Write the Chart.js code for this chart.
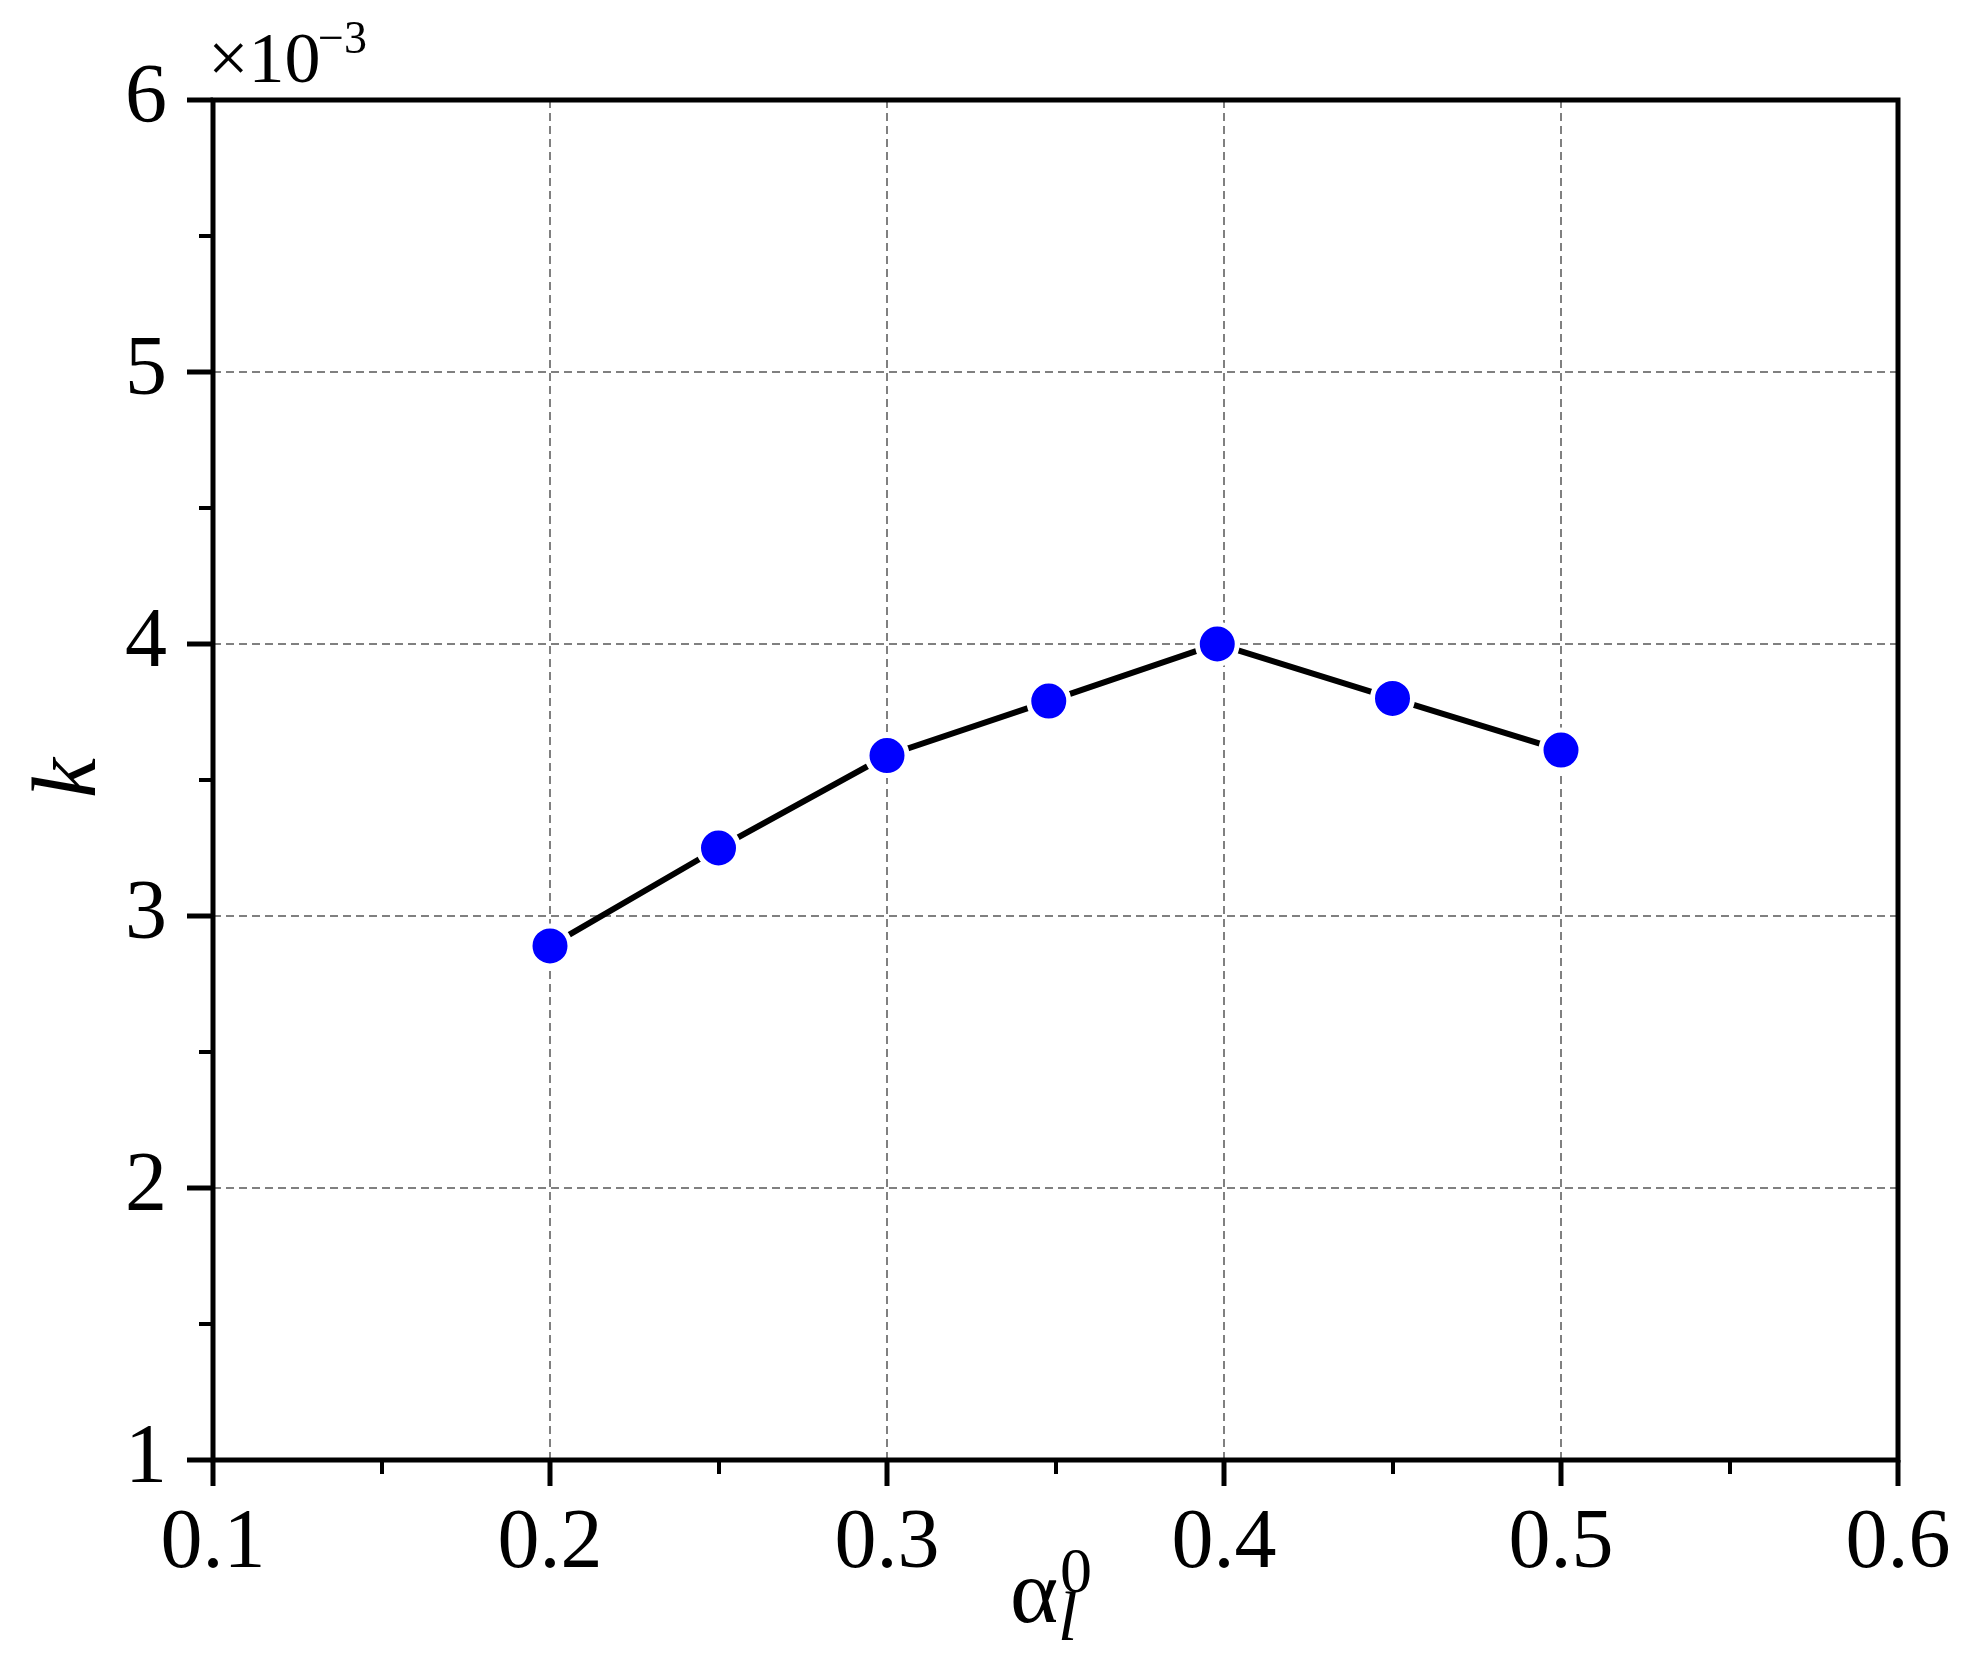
<!DOCTYPE html>
<html>
<head>
<meta charset="utf-8">
<script src="https://cdn.jsdelivr.net/npm/chart.js@4.4.1/dist/chart.umd.min.js"></script>
<style>
  html, body { margin: 0; padding: 0; background: #fff; }
  #wrap { width: 1973px; height: 1659px; }
</style>
</head>
<body>
<div id="wrap"><canvas id="c" width="1973" height="1659"></canvas></div>
<script>
// valeurs
const alphaL0 = [0.2, 0.25, 0.3, 0.348, 0.398, 0.45, 0.5];
const kValues = [2.89, 3.25, 3.59, 3.79, 4.00, 3.80, 3.61];   // x 1e-3

const xTickValues = [0.1, 0.2, 0.3, 0.4, 0.5, 0.6];
const xTickLabels = ['0.1', '0.2', '0.3', '0.4', '0.5', '0.6'];
const yTickValues = [1, 2, 3, 4, 5, 6];
const yTickLabels = ['1', '2', '3', '4', '5', '6'];
const xMinor = [0.15, 0.25, 0.35, 0.45, 0.55];
const yMinor = [1.5, 2.5, 3.5, 4.5, 5.5];

const SERIF = "'Liberation Serif'";

// cadre, petites graduations et textes (titres, exposant)
const decor = {
  id: 'decor',
  afterDraw(chart) {
    const { ctx, chartArea: a, scales: { x, y } } = chart;
    ctx.save();
    ctx.strokeStyle = '#000';
    ctx.lineWidth = 5;
    ctx.strokeRect(a.left, a.top, a.right - a.left, a.bottom - a.top);

    ctx.lineWidth = 4;
    ctx.beginPath();
    xMinor.forEach(v => {
      const px = Math.round(x.getPixelForValue(v));
      ctx.moveTo(px, a.bottom); ctx.lineTo(px, a.bottom + 14);
    });
    yMinor.forEach(v => {
      const py = Math.round(y.getPixelForValue(v));
      ctx.moveTo(a.left, py); ctx.lineTo(a.left - 14, py);
    });
    ctx.stroke();

    ctx.fillStyle = '#000';
    ctx.textBaseline = 'alphabetic';
    ctx.textAlign = 'left';
    ctx.font = '72px ' + SERIF;
    ctx.fillText('\u00d710', 208, 82);
    ctx.font = '46px ' + SERIF;
    ctx.fillText('\u22123', 318, 53);

    // alpha_l^0
    ctx.font = '92px ' + SERIF;
    ctx.fillText('\u03b1', 1010, 1622);
    ctx.font = 'italic 70px ' + SERIF;
    ctx.fillText('l', 1058, 1640);
    ctx.font = '64px ' + SERIF;
    ctx.fillText('0', 1060, 1592);

    // k
    ctx.translate(95, 778);
    ctx.rotate(-Math.PI / 2);
    ctx.textAlign = 'center';
    ctx.font = 'italic 90px ' + SERIF;
    ctx.fillText('k', 0, 0);
    ctx.restore();
  }
};

function draw() {
  new Chart(document.getElementById('c'), {
    type: 'line',
    data: {
      datasets: [{
        data: alphaL0.map((v, i) => ({ x: v, y: kValues[i] })),
        borderColor: '#000',
        borderWidth: 6,
        pointRadius: 20,
        pointHoverRadius: 20,
        pointBackgroundColor: '#0000ff',
        pointBorderColor: '#fff',
        pointBorderWidth: 5,
        tension: 0,
        fill: false,
      }],
    },
    options: {
      responsive: false, animation: false,
      layout: { padding: { top: 100, right: 75, left: 0, bottom: 0 } },
      plugins: { legend: { display: false }, tooltip: { enabled: false } },
      scales: {
        x: {
          type: 'linear', min: 0.1, max: 0.6,
          afterFit: (s) => { s.height = 199; },
          afterBuildTicks: (s) => { s.ticks = xTickValues.map(v => ({ value: v })); },
          ticks: {
            color: '#000', padding: 9, maxRotation: 0,
            font: { family: SERIF, size: 84 },
            callback: (v) => xTickLabels[xTickValues.indexOf(Number(v.toFixed(2)))] ?? '',
          },
          grid: { color: '#808080', lineWidth: 2, tickColor: '#000', tickWidth: 5, tickLength: 26 },
          border: { display: false, dash: [8, 5] },
        },
        y: {
          type: 'linear', min: 1, max: 6,
          afterFit: (s) => { s.width = 213; },
          afterBuildTicks: (s) => { s.ticks = yTickValues.map(v => ({ value: v })); },
          ticks: {
            color: '#000', padding: 20,
            font: { family: SERIF, size: 84 },
            callback: (v) => yTickLabels[yTickValues.indexOf(v)] ?? '',
          },
          grid: { color: '#808080', lineWidth: 2, tickColor: '#000', tickWidth: 5, tickLength: 26 },
          border: { display: false, dash: [8, 5] },
        },
      },
    },
    plugins: [decor],
  });
}

Promise.all([
  document.fonts.load("84px 'Liberation Serif'"),
  document.fonts.load("italic 84px 'Liberation Serif'"),
]).then(draw, draw);
</script>
</body>
</html>
